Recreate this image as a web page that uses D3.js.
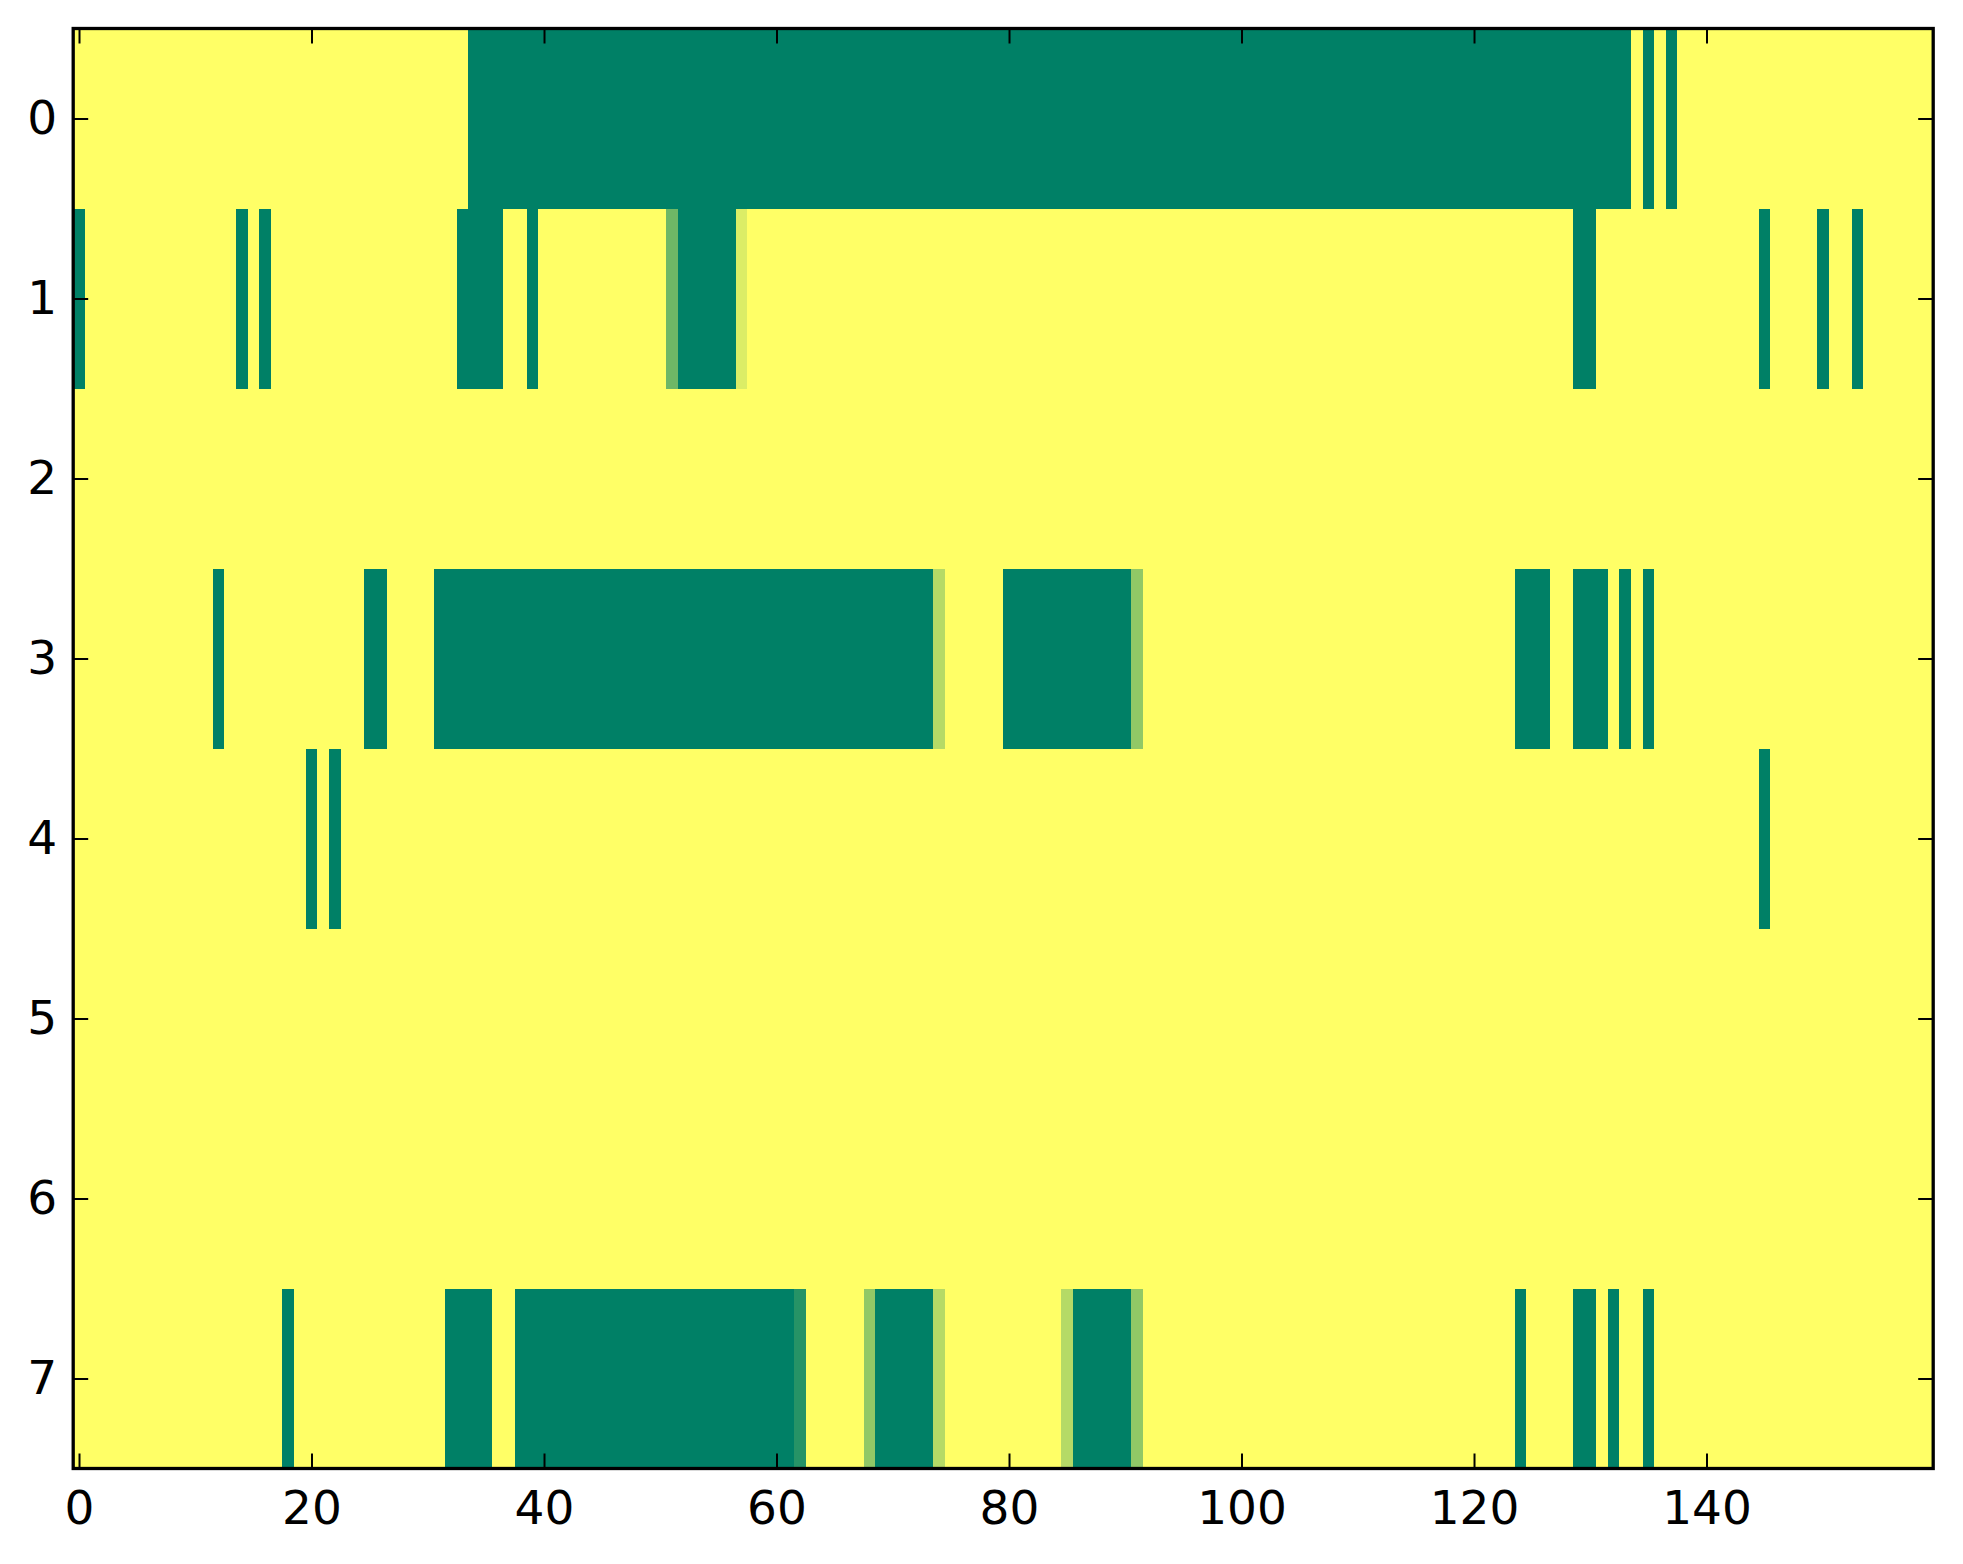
<!DOCTYPE html>
<html>
<head>
<meta charset="utf-8">
<script src="https://cdn.jsdelivr.net/npm/d3@7"></script>
<style>
  html, body { margin: 0; padding: 0; background: #fff; }
  svg text { font-family: "DejaVu Sans", sans-serif; }
</style>
</head>
<body>
<svg id="canvas" width="1963" height="1564"></svg>
<script>
"use strict";

// === Data: one array of 160 values per row (0 = green, 1 = yellow) ===
let row0 = [
  1,1,1,1,1,1,1,1,1,1, 1,1,1,1,1,1,1,1,1,1,
  1,1,1,1,1,1,1,1,1,1, 1,1,1,1,0,0,0,0,0,0,
  0,0,0,0,0,0,0,0,0,0, 0,0,0,0,0,0,0,0,0,0,
  0,0,0,0,0,0,0,0,0,0, 0,0,0,0,0,0,0,0,0,0,
  0,0,0,0,0,0,0,0,0,0, 0,0,0,0,0,0,0,0,0,0,
  0,0,0,0,0,0,0,0,0,0, 0,0,0,0,0,0,0,0,0,0,
  0,0,0,0,0,0,0,0,0,0, 0,0,0,0,1,0,1,0,1,1,
  1,1,1,1,1,1,1,1,1,1, 1,1,1,1,1,1,1,1,1,1
];
let row1 = [
  0,1,1,1,1,1,1,1,1,1, 1,1,1,1,0,1,0,1,1,1,
  1,1,1,1,1,1,1,1,1,1, 1,1,1,0,0,0,0,1,1,0,
  1,1,1,1,1,1,1,1,1,1, 1,0.43,0,0,0,0,0,0.86,1,1,
  1,1,1,1,1,1,1,1,1,1, 1,1,1,1,1,1,1,1,1,1,
  1,1,1,1,1,1,1,1,1,1, 1,1,1,1,1,1,1,1,1,1,
  1,1,1,1,1,1,1,1,1,1, 1,1,1,1,1,1,1,1,1,1,
  1,1,1,1,1,1,1,1,1,0, 0,1,1,1,1,1,1,1,1,1,
  1,1,1,1,1,0,1,1,1,1, 0,1,1,0,1,1,1,1,1,1
];
let row2 = [
  1,1,1,1,1,1,1,1,1,1, 1,1,1,1,1,1,1,1,1,1,
  1,1,1,1,1,1,1,1,1,1, 1,1,1,1,1,1,1,1,1,1,
  1,1,1,1,1,1,1,1,1,1, 1,1,1,1,1,1,1,1,1,1,
  1,1,1,1,1,1,1,1,1,1, 1,1,1,1,1,1,1,1,1,1,
  1,1,1,1,1,1,1,1,1,1, 1,1,1,1,1,1,1,1,1,1,
  1,1,1,1,1,1,1,1,1,1, 1,1,1,1,1,1,1,1,1,1,
  1,1,1,1,1,1,1,1,1,1, 1,1,1,1,1,1,1,1,1,1,
  1,1,1,1,1,1,1,1,1,1, 1,1,1,1,1,1,1,1,1,1
];
let row3 = [
  1,1,1,1,1,1,1,1,1,1, 1,1,0,1,1,1,1,1,1,1,
  1,1,1,1,1,0,0,1,1,1, 1,0,0,0,0,0,0,0,0,0,
  0,0,0,0,0,0,0,0,0,0, 0,0,0,0,0,0,0,0,0,0,
  0,0,0,0,0,0,0,0,0,0, 0,0,0,0,0.71,1,1,1,1,1,
  0,0,0,0,0,0,0,0,0,0, 0,0.57,1,1,1,1,1,1,1,1,
  1,1,1,1,1,1,1,1,1,1, 1,1,1,1,1,1,1,1,1,1,
  1,1,1,1,0,0,0,1,1,0, 0,0,1,0,1,0,1,1,1,1,
  1,1,1,1,1,1,1,1,1,1, 1,1,1,1,1,1,1,1,1,1
];
let row4 = [
  1,1,1,1,1,1,1,1,1,1, 1,1,1,1,1,1,1,1,1,1,
  0,1,0,1,1,1,1,1,1,1, 1,1,1,1,1,1,1,1,1,1,
  1,1,1,1,1,1,1,1,1,1, 1,1,1,1,1,1,1,1,1,1,
  1,1,1,1,1,1,1,1,1,1, 1,1,1,1,1,1,1,1,1,1,
  1,1,1,1,1,1,1,1,1,1, 1,1,1,1,1,1,1,1,1,1,
  1,1,1,1,1,1,1,1,1,1, 1,1,1,1,1,1,1,1,1,1,
  1,1,1,1,1,1,1,1,1,1, 1,1,1,1,1,1,1,1,1,1,
  1,1,1,1,1,0,1,1,1,1, 1,1,1,1,1,1,1,1,1,1
];
let row5 = [
  1,1,1,1,1,1,1,1,1,1, 1,1,1,1,1,1,1,1,1,1,
  1,1,1,1,1,1,1,1,1,1, 1,1,1,1,1,1,1,1,1,1,
  1,1,1,1,1,1,1,1,1,1, 1,1,1,1,1,1,1,1,1,1,
  1,1,1,1,1,1,1,1,1,1, 1,1,1,1,1,1,1,1,1,1,
  1,1,1,1,1,1,1,1,1,1, 1,1,1,1,1,1,1,1,1,1,
  1,1,1,1,1,1,1,1,1,1, 1,1,1,1,1,1,1,1,1,1,
  1,1,1,1,1,1,1,1,1,1, 1,1,1,1,1,1,1,1,1,1,
  1,1,1,1,1,1,1,1,1,1, 1,1,1,1,1,1,1,1,1,1
];
let row6 = [
  1,1,1,1,1,1,1,1,1,1, 1,1,1,1,1,1,1,1,1,1,
  1,1,1,1,1,1,1,1,1,1, 1,1,1,1,1,1,1,1,1,1,
  1,1,1,1,1,1,1,1,1,1, 1,1,1,1,1,1,1,1,1,1,
  1,1,1,1,1,1,1,1,1,1, 1,1,1,1,1,1,1,1,1,1,
  1,1,1,1,1,1,1,1,1,1, 1,1,1,1,1,1,1,1,1,1,
  1,1,1,1,1,1,1,1,1,1, 1,1,1,1,1,1,1,1,1,1,
  1,1,1,1,1,1,1,1,1,1, 1,1,1,1,1,1,1,1,1,1,
  1,1,1,1,1,1,1,1,1,1, 1,1,1,1,1,1,1,1,1,1
];
let row7 = [
  1,1,1,1,1,1,1,1,1,1, 1,1,1,1,1,1,1,1,0,1,
  1,1,1,1,1,1,1,1,1,1, 1,1,0,0,0,0,1,1,0,0,
  0,0,0,0,0,0,0,0,0,0, 0,0,0,0,0,0,0,0,0,0,
  0,0,0.15,1,1,1,1,1,0.57,0, 0,0,0,0,0.71,1,1,1,1,1,
  1,1,1,1,1,0.71,0,0,0,0, 0,0.57,1,1,1,1,1,1,1,1,
  1,1,1,1,1,1,1,1,1,1, 1,1,1,1,1,1,1,1,1,1,
  1,1,1,1,0,1,1,1,1,0, 0,1,0,1,1,0,1,1,1,1,
  1,1,1,1,1,1,1,1,1,1, 1,1,1,1,1,1,1,1,1,1
];
let rows = [row0, row1, row2, row3, row4, row5, row6, row7];

let xTicks = [0, 20, 40, 60, 80, 100, 120, 140];
let yTicks = [0, 1, 2, 3, 4, 5, 6, 7];

// === Layout ===
let svg = d3.select("#canvas");
let plotLeft = 73.2, plotTop = 28.5, plotWidth = 1860, plotHeight = 1440;
let nCols = row0.length;

let x = d3.scaleLinear().domain([-0.5, nCols - 0.5]).range([plotLeft, plotLeft + plotWidth]);
let y = d3.scaleLinear().domain([-0.5, rows.length - 0.5]).range([plotTop, plotTop + plotHeight]);
// matplotlib "summer": green -> yellow
let color = d3.scaleLinear().domain([0, 1]).range(["#008066", "#ffff66"]);

svg.append("rect").attr("width", 1963).attr("height", 1564).attr("fill", "#fff");

// === Cells ===
let cells = [];
rows.forEach((r, ri) => r.forEach((v, ci) => cells.push({ r: ri, c: ci, v: v })));

svg.append("g")
  .attr("shape-rendering", "crispEdges")
  .selectAll("rect")
  .data(cells)
  .join("rect")
  .attr("x", d => x(d.c - 0.5))
  .attr("y", d => y(d.r - 0.5))
  .attr("width", d => x(d.c + 0.5) - x(d.c - 0.5) + 0.3)
  .attr("height", d => y(d.r + 0.5) - y(d.r - 0.5) + 0.3)
  .attr("fill", d => color(d.v));

// === Axes (classic style: inward ticks on all sides) ===
function styleAxis(g) {
  g.select(".domain").remove();
  g.selectAll(".tick line").attr("stroke", "#000").attr("stroke-width", 2);
  g.selectAll(".tick text").attr("fill", "#000").style("font-size", "47px")
    .style("font-family", "'DejaVu Sans', sans-serif");
}

svg.append("g")
  .attr("transform", `translate(0,${plotTop + plotHeight})`)
  .call(d3.axisBottom(x).tickValues(xTicks).tickSize(-15).tickPadding(22))
  .call(styleAxis);

svg.append("g")
  .attr("transform", `translate(0,${plotTop})`)
  .call(d3.axisTop(x).tickValues(xTicks).tickSize(-15).tickFormat(""))
  .call(styleAxis);

svg.append("g")
  .attr("transform", `translate(${plotLeft},0)`)
  .call(d3.axisLeft(y).tickValues(yTicks).tickSize(-15).tickPadding(16))
  .call(styleAxis);

svg.append("g")
  .attr("transform", `translate(${plotLeft + plotWidth},0)`)
  .call(d3.axisRight(y).tickValues(yTicks).tickSize(-15).tickFormat(""))
  .call(styleAxis);

// === Frame ===
svg.append("rect")
  .attr("x", plotLeft)
  .attr("y", plotTop)
  .attr("width", plotWidth)
  .attr("height", plotHeight)
  .attr("fill", "none")
  .attr("stroke", "#000")
  .attr("stroke-width", 3.3);
</script>
</body>
</html>
